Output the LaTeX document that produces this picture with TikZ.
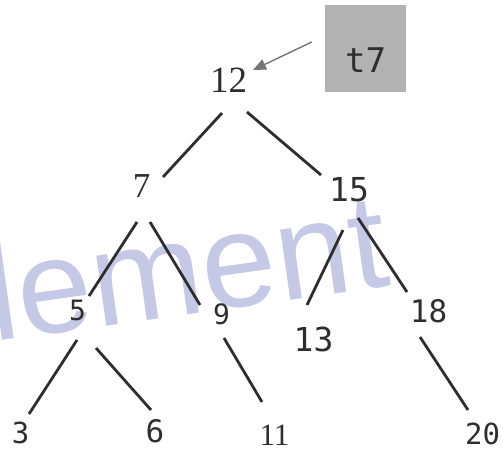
\documentclass[tikz,border=0pt]{standalone}
\usepackage{fontspec}
\setmainfont{Liberation Serif}
\newfontfamily\monof{DejaVu Sans Mono}
\newfontfamily\wmfont{Liberation Sans}
\usetikzlibrary{calc,arrows.meta}
\definecolor{ink}{HTML}{2E2E2E}
\definecolor{wmcol}{HTML}{C5C9E6}
\definecolor{boxgray}{HTML}{B2B2B2}
\definecolor{arrowgray}{HTML}{747474}
\begin{document}
\begin{tikzpicture}[x=1pt,y=-1pt,
  num/.style={inner sep=0pt, text=ink, font=\monof\fontsize{#1}{#1}\selectfont},
  ser/.style={inner sep=0pt, text=ink, font=\fontsize{#1}{#1}\selectfont},
  edge/.style={draw=ink, line width=2.8pt},
]
\useasboundingbox (0,0) rectangle (503,453);
\clip (0,0) rectangle (503,453);

% watermark
\node[anchor=base west, rotate=8, inner sep=0pt, text=wmcol,
      font=\wmfont\fontsize{134}{134}\selectfont] (wm) at (-80,352) {element};

% nodes
\node[ser=37] (n12) at (228.5,80.5) {12};
\node[ser=35] (n7)  at (141.5,186) {7};
\node[num=33] (n15) at (349,189.5) {15};
\node[num=28] (n5)  at (77.5,310) {5};
\node[num=28] (n9)  at (221.5,314) {9};
\node[num=33] (n13) at (313.5,339.5) {13};
\node[num=31] (n18) at (428.5,311) {18};
\node[num=29] (n3)  at (20.5,433) {3};
\node[num=31] (n6)  at (155,431.5) {6};
\node[ser=31] (n11) at (274.5,435) {11};
\node[num=29] (n20) at (482.5,434) {20};

% t7 box
\node[fill=boxgray, minimum width=81pt, inner sep=0pt, text height=67pt, text depth=20pt,
      text=ink, font=\monof\fontsize{34}{34}\selectfont, anchor=base] (t7) at (365.5,72) {t7};

% arrow
\draw[arrowgray, line width=1.4pt, -{Triangle[length=13pt,width=11pt]}]
  ($(t7.west)+(-13,-6.5)$) -- ($(n12)+(24.5,-10.5)$);

% edges
\draw[edge] ($(n12)+(-6.5,32.5)$) -- ($(n7)+(21.5,-9)$);
\draw[edge] ($(n12)+(18.5,31.5)$) -- ($(n15)+(-28,-14.5)$);
\draw[edge] ($(n7)+(-4.5,36)$) -- ($(n5)+(11.5,-14)$);
\draw[edge] ($(n7)+(8.5,36)$) -- ($(n9)+(-21.5,-9)$);
\draw[edge] ($(n15)+(-6,40.5)$) -- ($(n13)+(-6.5,-34.5)$);
\draw[edge] ($(n15)+(9,28.5)$) -- ($(n18)+(-21.5,-19)$);
\draw[edge] ($(n5)+(-0.5,30)$) -- ($(n3)+(8.5,-19)$);
\draw[edge] ($(n5)+(18.5,38)$) -- ($(n6)+(-4,-21.5)$);
\draw[edge] ($(n9)+(2.5,24)$) -- ($(n11)+(-12.5,-33)$);
\draw[edge] ($(n18)+(-8.5,26)$) -- ($(n20)+(-14.5,-24)$);
\end{tikzpicture}
\end{document}
